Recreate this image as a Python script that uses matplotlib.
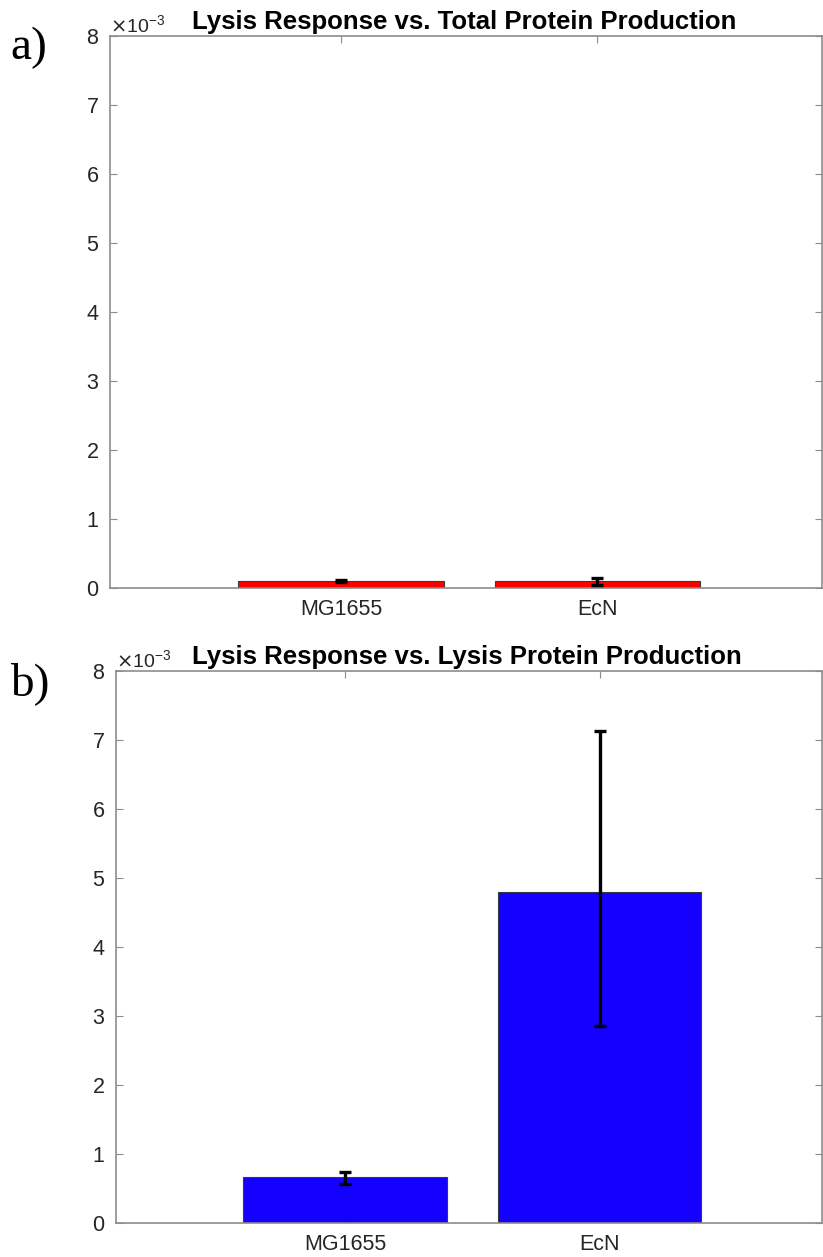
import matplotlib.pyplot as plt
from matplotlib.ticker import ScalarFormatter

plt.rcParams['font.family'] = ['Liberation Sans', 'DejaVu Sans']

strains = ['MG1655', 'EcN']

# lysis response normalised by total protein production
total_vals = [0.10e-3, 0.10e-3]
total_err_lo = [0.012e-3, 0.06e-3]
total_err_hi = [0.012e-3, 0.045e-3]

# lysis response normalised by lysis protein production
lysis_vals = [0.66e-3, 4.79e-3]
lysis_err_lo = [0.09e-3, 1.93e-3]
lysis_err_hi = [0.08e-3, 2.34e-3]

axis_grey = '#8c8c8c'
text_grey = '#262626'


def draw_panel(ax, vals, err_lo, err_hi, color, title):
    xs = range(1, len(vals) + 1)
    ax.bar(xs, vals, width=0.8, color=color, edgecolor='#3a3a3a', linewidth=0.8, zorder=2)
    ax.errorbar(xs, vals, yerr=[err_lo, err_hi], fmt='none', ecolor='black',
                elinewidth=2.4, capsize=4.5, capthick=2.4, zorder=3)
    ax.set_xlim(0.1, 2.875)
    ax.set_ylim(0, 8e-3)
    ax.set_xticks(list(xs))
    ax.set_xticklabels(strains)
    ax.set_yticks([i * 1e-3 for i in range(9)])

    fmt = ScalarFormatter(useMathText=True)
    fmt.set_powerlimits((-2, 2))
    ax.yaxis.set_major_formatter(fmt)
    ax.yaxis.get_offset_text().set_fontsize(14)
    ax.yaxis.get_offset_text().set_color('#555555')

    ax.tick_params(direction='in', length=5, width=0.8, color=axis_grey,
                   labelsize=15.5, labelcolor=text_grey, top=True, right=True, pad=8)
    for s in ax.spines.values():
        s.set_color(axis_grey)
        s.set_linewidth(1.2)
    ax.set_title(title, fontsize=18.5, fontweight='bold', x=0.497, pad=5)


fig = plt.figure(figsize=(8.23, 12.57), dpi=100)
ax_a = fig.add_axes([0.1337, 0.5322, 0.865, 0.4391])
ax_b = fig.add_axes([0.1410, 0.0271, 0.858, 0.4391])

draw_panel(ax_a, total_vals, total_err_lo, total_err_hi, '#ff0000',
           'Lysis Response vs. Total Protein Production')
draw_panel(ax_b, lysis_vals, lysis_err_lo, lysis_err_hi, '#1400ff',
           'Lysis Response vs. Lysis Protein Production')

fig.text(0.012, 0.953, 'a)', fontsize=34, family='Liberation Serif', va='baseline')
fig.text(0.012, 0.447, 'b)', fontsize=34, family='Liberation Serif', va='baseline')

fig.savefig('out.png', dpi=100, facecolor='white')
